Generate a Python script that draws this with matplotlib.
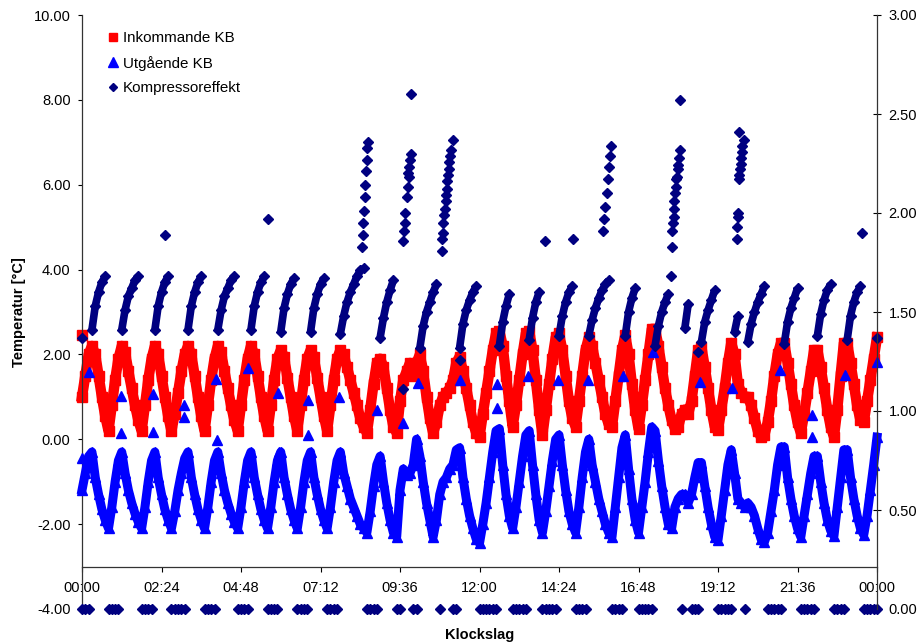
import numpy as np
import matplotlib.pyplot as plt
from matplotlib.lines import Line2D

plt.rcParams['font.family'] = ['Liberation Sans', 'DejaVu Sans']
plt.rcParams['axes.unicode_minus'] = False

nan = np.nan

# one reading every 6 minutes, 00:00 -> 24:00 (241 readings)
hours = np.linspace(0, 24, 241)

# Inkommande KB [C]  (one line = compressor on-phase | off-phase)
inkommande = [
    1.0, 1.5, 2.0,
    2.2, 2.0, 1.5, 1.0, 0.55, 0.2, 0.8, 1.4, 1.9,
    2.2, 2.05, 1.6, 1.2, 0.8, 0.45, 0.2, 0.8, 1.4, 1.9,
    2.2, 2.0, 1.5, 1.0, 0.55, 0.2, 0.6, 1.1, 1.6, 2.0,
    2.2, 2.0, 1.5, 1.0, 0.55, 0.2, 0.8, 1.4, 1.9,
    2.2, 2.05, 1.6, 1.2, 0.8, 0.45, 0.2, 0.8, 1.4, 1.9,
    2.2, 2.0, 1.5, 1.0, 0.55, 0.2, 0.8, 1.4, 1.9,
    2.1, 1.95, 1.45, 1.0, 0.55, 0.2, 0.8, 1.4, 1.9,
    2.1, 1.95, 1.45, 1.0, 0.55, 0.2, 0.8, 1.4, 1.9,
    2.1, 2.0, 1.7, 1.4, 1.1, 0.8, 0.5, 0.3, 0.15, 0.7, 1.3, 1.8,
    1.9, 1.7, 1.2, 0.7, 0.3, 0.15, 0.9,
    1.4, 1.6, 1.8, 1.5, 1.8,
    2.0, 1.6, 1.0, 0.5, 0.15, 0.4, 0.8,
    1.0, 1.1, 1.2, 1.4, 1.8,
    1.95, 1.6, 1.2, 0.8, 0.4, 0.15, 0.05, 0.6, 1.1, 1.6, 2.1, 2.5,
    2.55, 2.2, 1.5, 0.9, 0.3, 0.8, 1.4, 2.0, 2.5,
    2.55, 2.1, 1.4, 0.7, 0.1, 0.7, 1.3, 1.9, 2.4,
    2.5, 2.1, 1.5, 0.9, 0.5, 0.3, 0.9, 1.5, 2.1,
    2.4, 2.2, 1.8, 1.4, 1.0, 0.6, 0.35, 0.3, 0.9, 1.5, 2.1,
    2.45, 2.0, 1.3, 0.7, 0.25, 0.8, 1.4, 2.0, 2.6,
    2.6, 2.2, 1.7, 1.2, 0.8, 0.45, 0.25, 0.3, 0.6,
    0.7, 0.6, 0.9, 1.5, 2.1,
    2.17, 1.7, 1.2, 0.7, 0.3, 0.22, 0.7, 1.2, 1.8, 2.27,
    2.0, 1.3, 1.1, 1.0,
    1.0, 0.8, 0.5, 0.2, 0.05, 0.1, 0.4, 0.9, 1.5, 2.0, 2.27,
    2.27, 1.8, 1.3, 0.8, 0.4, 0.15, 0.6, 1.1, 1.6, 2.1,
    2.1, 1.7, 1.2, 0.7, 0.3, 0.06, 0.7, 1.5, 2.27,
    2.27, 1.8, 1.3, 0.8, 0.45, 0.4, 0.9, 1.4, 1.9, 2.4,
]

# Utgående KB [C]
utgaende = [
    -1.2, -0.8, -0.4,
    -0.3, -0.9, -1.3, -1.65, -1.9, -2.1, -1.6, -1.0, -0.5,
    -0.3, -0.8, -1.2, -1.5, -1.75, -1.95, -2.1, -1.6, -1.0, -0.5,
    -0.3, -0.9, -1.3, -1.65, -1.9, -2.1, -1.7, -1.2, -0.8, -0.45,
    -0.3, -0.9, -1.3, -1.65, -1.9, -2.1, -1.6, -1.0, -0.5,
    -0.3, -0.8, -1.2, -1.5, -1.75, -1.95, -2.1, -1.6, -1.0, -0.5,
    -0.3, -0.9, -1.3, -1.65, -1.9, -2.1, -1.6, -1.0, -0.5,
    -0.3, -0.9, -1.3, -1.65, -1.9, -2.1, -1.6, -1.0, -0.5,
    -0.3, -0.9, -1.3, -1.65, -1.9, -2.1, -1.6, -1.0, -0.5,
    -0.3, -0.8, -1.1, -1.4, -1.6, -1.8, -2.0, -2.1, -2.2, -1.7, -1.1, -0.6,
    -0.4, -1.0, -1.5, -1.9, -2.2, -2.3, -1.2,
    -0.7, -0.85, -0.8, -0.6, 0.0,
    -0.4, -1.0, -1.5, -1.9, -2.3, -1.9, -1.3,
    -1.0, -0.9, -0.7, -0.6, -0.25,
    -0.2, -0.9, -1.4, -1.8, -2.1, -2.35, -2.45, -2.0, -1.5, -0.9, -0.3, 0.2,
    0.25, -0.6, -1.3, -1.8, -2.1, -1.6, -1.0, -0.4, 0.1,
    0.2, -0.6, -1.3, -1.9, -2.2, -1.7, -1.1, -0.5, 0.0,
    0.1, -0.6, -1.2, -1.7, -2.0, -2.2, -1.6, -0.9, -0.3,
    0.0, -0.6, -1.0, -1.4, -1.7, -2.0, -2.2, -2.3, -1.6, -0.9, -0.2,
    0.1, -0.7, -1.4, -1.9, -2.2, -1.6, -1.0, -0.3, 0.29,
    0.2, -0.5, -1.1, -1.6, -2.0, -2.1, -1.6, -1.4, -1.3,
    -1.3, -1.5, -1.3, -0.9, -0.55,
    -0.55, -1.1, -1.6, -2.0, -2.3, -2.37, -1.8, -1.2, -0.6, -0.25,
    -0.8, -1.4, -1.5, -1.6,
    -1.5, -1.6, -1.8, -2.1, -2.35, -2.42, -2.2, -1.7, -1.2, -0.6, -0.18,
    -0.18, -0.9, -1.4, -1.8, -2.1, -2.3, -1.8, -1.3, -0.8, -0.4,
    -0.4, -1.0, -1.5, -1.9, -2.15, -2.28, -1.6, -0.9, -0.25,
    -0.25, -0.9, -1.4, -1.8, -2.1, -2.25, -1.8, -1.2, -0.6, 0.05,
]

# Kompressoreffekt [kW]  (0 = off, nan = only the single readings below)
kompressor = [
    0, 0, 0,
    1.41, 1.53, 1.60, 1.65, 1.68, 0, 0, 0, 0,
    1.41, 1.51, 1.58, 1.62, 1.66, 1.68, 0, 0, 0, 0,
    1.41, 1.53, 1.60, 1.65, 1.68, 0, 0, 0, 0, 0,
    1.41, 1.53, 1.60, 1.65, 1.68, 0, 0, 0, 0,
    1.41, 1.51, 1.58, 1.62, 1.66, 1.68, 0, 0, 0, 0,
    1.41, 1.53, 1.60, 1.65, 1.68, 0, 0, 0, 0,
    1.40, 1.52, 1.59, 1.64, 1.67, 0, 0, 0, 0,
    1.40, 1.52, 1.59, 1.64, 1.67, 0, 0, 0, 0,
    1.39, 1.48, 1.55, 1.60, 1.64, 1.68, 1.71, 1.72, 0, 0, 0, 0,
    1.37, 1.47, 1.55, 1.61, 1.66, 0, 0,
    nan, nan, nan, 0, 0,
    1.32, 1.43, 1.50, 1.55, 1.60, 1.64, 0,
    nan, nan, nan, 0, 0,
    1.32, 1.44, 1.51, 1.56, 1.60, 1.63, 0, 0, 0, 0, 0, 0,
    1.33, 1.45, 1.53, 1.59, 0, 0, 0, 0, 0,
    1.36, 1.47, 1.55, 1.60, 0, 0, 0, 0, 0,
    1.38, 1.48, 1.55, 1.60, 1.63, 0, 0, 0, 0,
    1.38, 1.46, 1.52, 1.57, 1.61, 1.64, 1.66, 0, 0, 0, 0,
    1.38, 1.50, 1.57, 1.62, 0, 0, 0, 0, 0,
    1.33, 1.43, 1.50, 1.55, 1.59, nan, nan, nan, 0,
    1.42, 1.54, 0, 0, 0,
    1.35, 1.45, 1.51, 1.56, 1.61, 0, 0, 0, 0, 0,
    1.40, 1.48, nan, 0,
    1.35, 1.44, 1.50, 1.55, 1.59, 1.63, 0, 0, 0, 0, 0,
    1.34, 1.45, 1.52, 1.57, 1.62, 0, 0, 0, 0, 0,
    1.38, 1.49, 1.56, 1.61, 1.64, 0, 0, 0, 0,
    1.36, 1.48, 1.55, 1.60, 1.63, 0, 0, 0, 0, 0,
]

# single readings between the grid points
ink_extra_t = [0.0]
ink_extra = [2.45]

utg_extra_t = [0.0, 0.22, 1.17, 1.17, 2.14, 2.14, 3.08, 3.09, 4.05, 4.07,
               5.02, 5.93, 5.95, 6.83, 6.83, 7.76, 8.92, 9.68, 10.15, 11.41,
               12.52, 12.52, 13.46, 14.37, 15.27, 16.33, 17.24, 18.66, 19.62,
               21.07, 22.03, 22.03, 23.02, 24.0]
utg_extra = [-0.45, 1.59, 1.03, 0.14, 1.07, 0.18, 0.81, 0.53, 1.41, -0.02,
             1.67, 1.10, -0.31, 0.93, 0.10, 1.0, 0.7, 0.38, 1.33, 1.40,
             1.30, 0.74, 1.5, 1.4, 1.4, 1.5, 2.06, 1.35, 1.21,
             1.63, 0.57, 0.05, 1.52, 1.83]

komp_extra_t = [0.0, 2.50, 5.62,
                8.45, 8.47, 8.49, 8.51, 8.53, 8.55, 8.57, 8.59, 8.61, 8.62,
                9.69, 9.70, 9.72, 9.74, 9.76, 9.80, 9.83, 9.85, 9.86, 9.88,
                9.90, 9.92, 9.93,
                10.86, 10.88, 10.89, 10.91, 10.93, 10.96, 10.98, 11.00, 11.01,
                11.03, 11.05, 11.07, 11.09, 11.11, 11.14, 11.19,
                11.41, 13.98, 14.83,
                15.72, 15.76, 15.80, 15.84, 15.88, 15.91, 15.94, 15.97,
                17.78, 17.80, 17.82, 17.85, 17.87, 17.88, 17.88, 17.90, 17.92,
                17.94, 17.96, 17.98, 18.00, 18.03, 18.05, 18.05,
                18.60,
                19.76, 19.78, 19.80, 19.81, 19.83, 19.84, 19.84, 19.86, 19.89,
                19.89, 19.92, 19.93, 19.98,
                23.55, 24.0]
komp_extra = [1.37, 1.89, 1.97,
              1.83, 1.89, 1.95, 2.01, 2.08, 2.14, 2.21, 2.27, 2.33, 2.36,
              1.11, 1.86, 1.91, 1.95, 2.00, 2.08, 2.13, 2.20, 2.18, 2.23,
              2.27, 2.30, 2.60,
              1.81, 1.87, 1.90, 1.95, 1.99, 2.02, 2.06, 2.09, 2.12,
              2.16, 2.19, 2.22, 2.26, 2.29, 2.32, 2.37,
              1.26, 1.86, 1.87,
              1.91, 1.97, 2.03, 2.10, 2.17, 2.23, 2.29, 2.34,
              1.68, 1.83, 1.91, 1.95, 1.98, 2.02, 2.06, 2.10, 2.13,
              2.17, 2.18, 2.22, 2.24, 2.28, 2.32, 2.57,
              1.30,
              1.87, 1.93, 1.98, 2.00, 2.17, 2.19, 2.41, 2.22, 2.25,
              2.28, 2.31, 2.34, 2.37,
              1.90, 1.37]

tick_hours = [0, 2.4, 4.8, 7.2, 9.6, 12, 14.4, 16.8, 19.2, 21.6, 24]
tick_labels = ['00:00', '02:24', '04:48', '07:12', '09:36', '12:00',
               '14:24', '16:48', '19:12', '21:36', '00:00']

red = '#ff0000'
blue = '#0000ff'
navy = '#000080'

fig = plt.figure(figsize=(9.18, 6.43), dpi=100)
ax = fig.add_axes([82 / 918, 1 - 609 / 643, 795 / 918, 594 / 643])
ax2 = ax.twinx()

ink = np.array(inkommande, dtype=float)
utg = np.array(utgaende, dtype=float)
komp = np.array(kompressor, dtype=float)

ax.plot(hours, ink, color=red, lw=7.5, marker='s', ms=7, mec=red,
        solid_joinstyle='round', clip_on=False, zorder=2)
ax.plot(ink_extra_t, ink_extra, ls='', marker='s', ms=6.5, color=red, clip_on=False, zorder=2)
ax.plot(hours, utg, color=blue, lw=6.5, marker='^', ms=7.5, mec=blue,
        solid_joinstyle='round', clip_on=False, zorder=3)
ax.plot(utg_extra_t, utg_extra, ls='', marker='^', ms=7, color=blue, clip_on=False, zorder=3)

komp_on = np.where(komp > 0, komp, nan)
komp_off = np.where(komp == 0, 0, nan)
ax2.plot(hours, komp_on, color=navy, lw=5.5, marker='D', ms=5.5,
         solid_capstyle='butt', solid_joinstyle='round', clip_on=False)
ax2.plot(hours, komp_off, color=navy, lw=5.5, marker='D', ms=5.5,
         solid_capstyle='butt', clip_on=False)
ax2.plot(komp_extra_t, komp_extra, ls='', marker='D', ms=5, color=navy, clip_on=False)

ax.set_xlim(0, 24)
ax.set_ylim(-4, 10)
ax2.set_ylim(0, 3)

ax.set_xticks(tick_hours, tick_labels)
ax.set_yticks([-4, -2, 0, 2, 4, 6, 8, 10])
ax2.set_yticks([0, 0.5, 1, 1.5, 2, 2.5, 3])
ax.yaxis.set_major_formatter('{x:.2f}')
ax2.yaxis.set_major_formatter('{x:.2f}')

ax.spines['bottom'].set_position(('data', -3))
ax.spines['top'].set_visible(False)
ax.spines['right'].set_visible(False)
ax2.spines['top'].set_visible(False)
ax2.spines['bottom'].set_visible(False)
ax2.spines['left'].set_visible(False)
for s in [ax.spines['left'], ax.spines['bottom'], ax2.spines['right']]:
    s.set_linewidth(0.9)
    s.set_color('#333333')

ax.tick_params(axis='x', direction='out', length=3.6, pad=6.5, labelsize=10.5)
ax.tick_params(axis='y', direction='out', length=3.2, pad=5, labelsize=10.5)
ax2.tick_params(axis='y', direction='inout', length=5.8, pad=5.4, labelsize=10.5)

ax.set_xlabel('Klockslag', fontsize=10.5, fontweight='bold')
ax.xaxis.label.set_va('center')
ax.xaxis.set_label_coords(0.5, -0.0438)
ax.set_ylabel('Temperatur [°C]', fontsize=10.5, fontweight='bold')
ax.yaxis.label.set_va('center')
ax.yaxis.set_label_coords((19 - 82) / 795, 0.5)

handles = [
    Line2D([], [], ls='', marker='s', ms=6, color=red),
    Line2D([], [], ls='', marker='^', ms=6.5, color=blue),
    Line2D([], [], ls='', marker='D', ms=4.5, color=navy),
]
ax2.legend(handles, ['Inkommande KB', 'Utgående KB', 'Kompressoreffekt'],
           loc='upper left', bbox_to_anchor=(0.033, 0.973), frameon=False,
           fontsize=10.9, handlelength=0.6, handletextpad=0.35,
           labelspacing=0.7, borderaxespad=0, borderpad=0)

fig.savefig('out.png', dpi=100)
